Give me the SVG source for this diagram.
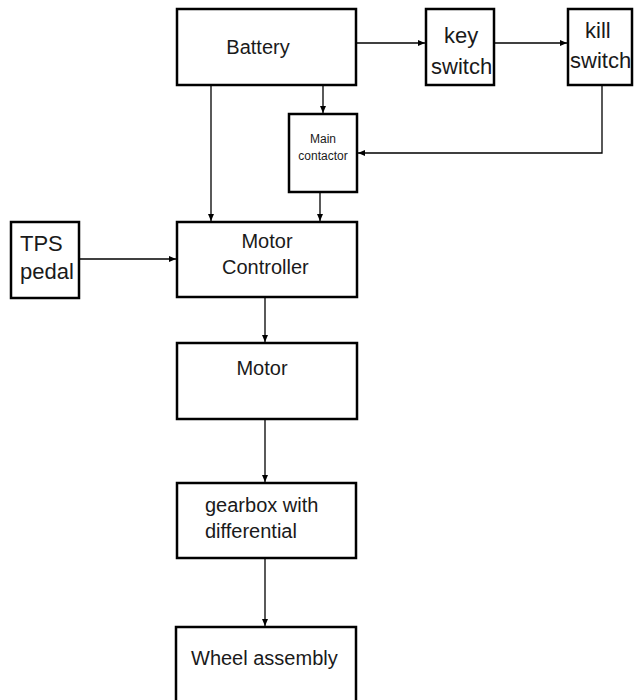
<svg xmlns="http://www.w3.org/2000/svg" width="634" height="700" viewBox="0 0 634 700">
<defs>
<style>
.box{fill:#fff;stroke:#000;stroke-width:2.5}
.t{font-family:"Liberation Sans",Arial,sans-serif;fill:#1a1a1a;font-size:20px}
.big{font-size:22px}
.sm{font-size:12px}
.c{stroke:#000;stroke-width:1.3;fill:none;marker-end:url(#ah)}
</style>
<marker id="ah" markerUnits="userSpaceOnUse" markerWidth="8" markerHeight="8" refX="7" refY="4" orient="auto">
<path d="M0,1 L7,4 L0,7 Z" fill="#000"/>
</marker>
</defs>
<rect width="634" height="700" fill="#fff"/>
<g id="connectors">
<path class="c" d="M357 43 H425"/>
<path class="c" d="M495 43 H567"/>
<path class="c" d="M323 86 V113"/>
<path class="c" d="M602 86 V153 H358"/>
<path class="c" d="M211 86 V221"/>
<path class="c" d="M320 193 V221"/>
<path class="c" d="M80 259 H176"/>
<path class="c" d="M265 298 V342"/>
<path class="c" d="M265 420 V482"/>
<path class="c" d="M265 559 V626"/>
</g>
<g id="battery"><rect class="box" x="177" y="9" width="179" height="76"/><text class="t" x="258" y="54" text-anchor="middle">Battery</text></g>
<g id="key-switch"><rect class="box" x="426" y="9" width="68" height="76"/><text class="t big" x="444" y="43">key</text><text class="t big" x="431" y="74">switch</text></g>
<g id="kill-switch"><rect class="box" x="568" y="9" width="64" height="76"/><text class="t big" x="585" y="38">kill</text><text class="t big" x="570" y="68">switch</text></g>
<g id="main-contactor"><rect class="box" x="289" y="114" width="68" height="78"/><text class="t sm" x="323" y="143" text-anchor="middle">Main</text><text class="t sm" x="323" y="160" text-anchor="middle">contactor</text></g>
<g id="tps-pedal"><rect class="box" x="11" y="222" width="68" height="76"/><text class="t big" x="20" y="251">TPS</text><text class="t big" x="20" y="279">pedal</text></g>
<g id="motor-controller"><rect class="box" x="177" y="222" width="180" height="75"/><text class="t" x="267" y="248" text-anchor="middle">Motor</text><text class="t" x="222" y="274">Controller</text></g>
<g id="motor"><rect class="box" x="177" y="343" width="180" height="76"/><text class="t" x="262" y="375" text-anchor="middle">Motor</text></g>
<g id="gearbox"><rect class="box" x="177" y="483" width="179" height="75"/><text class="t" x="205" y="512">gearbox with</text><text class="t" x="205" y="538">differential</text></g>
<g id="wheel-assembly"><rect class="box" x="176" y="627" width="180" height="80"/><text class="t" x="191" y="665">Wheel assembly</text></g>
</svg>
